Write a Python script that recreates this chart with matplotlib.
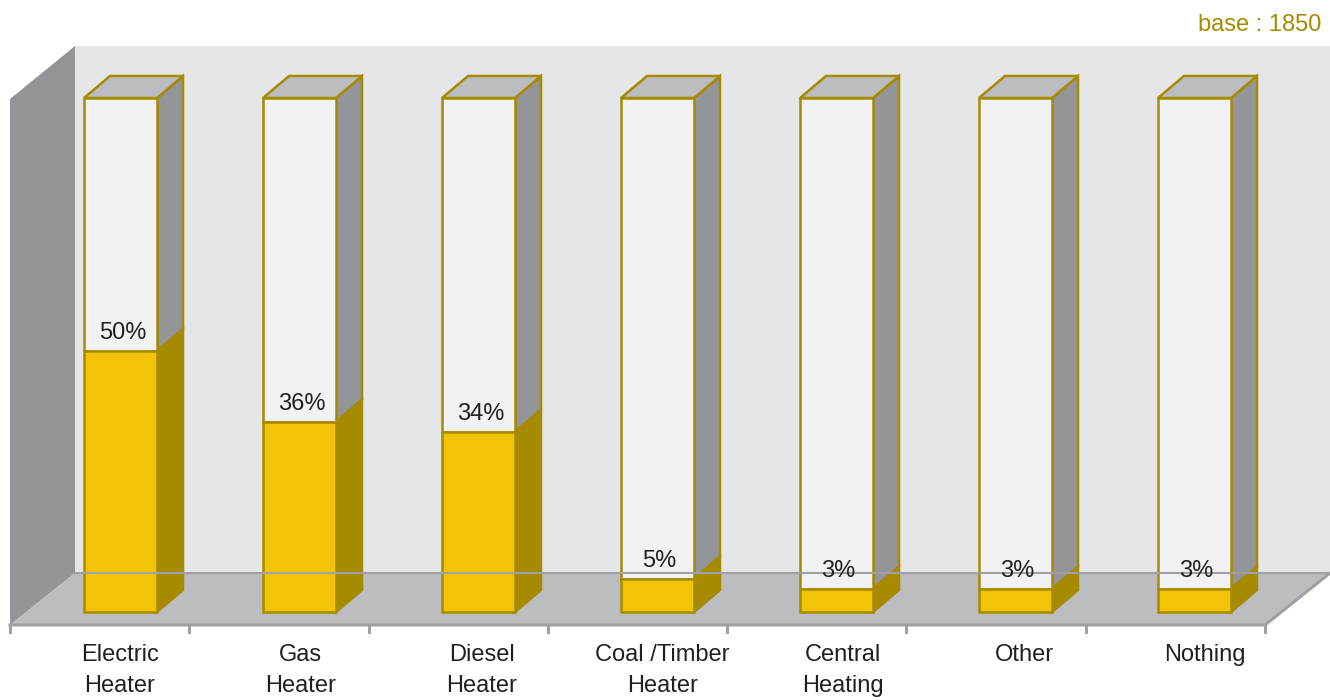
import matplotlib
matplotlib.use("Agg")
import matplotlib.pyplot as plt
from matplotlib.patches import Polygon

# Dane
kategorie = ["Electric\nHeater", "Gas\nHeater", "Diesel\nHeater", "Coal /Timber\nHeater",
             "Central\nHeating", "Other", "Nothing"]
wartosci = [50, 36, 34, 5, 3, 3, 3]
etykiety = ["50%", "36%", "34%", "5%", "3%", "3%", "3%"]
podstawa = "base : 1850"

# Kolory
zolty = "#F2C407"
zolty_bok = "#A68A00"
obrys = "#A68A00"
bialy = "#F1F2F4"
szary_gora = "#BCBDC0"
szary_bok = "#939598"
sciana_tyl = "#E5E6E8"
sciana_lewa = "#939598"
podloga = "#BCBDC1"
linia_podlogi = "#A0A1A4"

plt.rcParams['font.family'] = ['Liberation Sans', 'DejaVu Sans']

figura = plt.figure(figsize=(13.3, 7), dpi=100)
os = figura.add_axes([0, 0, 1, 1])
os.set_xlim(0, 1330)
os.set_ylim(700, 0)
os.axis('off')

# Geometria (piksele)
dx, dy = 26, -22
y_zero, y_sto = 604, 98
y_dol = 612
szer = 73
x0, krok = 84, 179


def y_wart(v):
    return y_zero - v / 100 * (y_zero - y_sto)


# Ściany i podłoga
os.add_patch(Polygon([(75, 46), (1330, 46), (1330, 573), (75, 573)], closed=True,
                     fc=sciana_tyl, ec='none'))
os.add_patch(Polygon([(10, 99), (75, 46), (75, 573), (10, 625)], closed=True,
                     fc=sciana_lewa, ec='none'))
os.add_patch(Polygon([(10, 625), (75, 573), (1330, 573), (1265, 625)], closed=True,
                     fc=podloga, ec='none'))
os.plot([75, 1330], [573, 573], color=linia_podlogi, lw=1.5)
os.plot([10, 1265, 1330], [625, 625, 573], color=linia_podlogi, lw=2.2,
        solid_joinstyle='miter')
for i in range(len(kategorie) + 1):
    xt = 10 + i * (1255 / len(kategorie))
    os.plot([xt, xt], [625, 632], color=linia_podlogi, lw=2.2)

# Słupki
for i, (v, et) in enumerate(zip(wartosci, etykiety)):
    xl = x0 + i * krok
    xr = xl + szer
    yv = y_wart(v)
    kw = dict(closed=True, ec=obrys, lw=1.8, joinstyle='miter')
    # bok
    os.add_patch(Polygon([(xr, y_sto), (xr + dx, y_sto + dy), (xr + dx, yv + dy), (xr, yv)],
                         fc=szary_bok, **kw))
    os.add_patch(Polygon([(xr, yv), (xr + dx, yv + dy), (xr + dx, y_dol + dy), (xr, y_dol)],
                         fc=zolty_bok, **kw))
    # góra
    os.add_patch(Polygon([(xl, y_sto), (xl + dx, y_sto + dy), (xr + dx, y_sto + dy), (xr, y_sto)],
                         fc=szary_gora, **kw))
    # przód
    os.add_patch(Polygon([(xl, y_sto), (xr, y_sto), (xr, yv), (xl, yv)], fc=bialy, **kw))
    os.add_patch(Polygon([(xl, yv), (xr, yv), (xr, y_dol), (xl, y_dol)], fc=zolty, **kw))
    os.text((xl + xr) / 2 + 2, yv - 18, et, ha='center', va='center', fontsize=17,
            color='#231F20')
    # etykiety kategorii, każda linia osobno
    for j, linia in enumerate(kategorie[i].split("\n")):
        os.text(120 + i * 180.8, 655 + j * 31, linia, ha='center', va='center',
                fontsize=17, color='#231F20')

os.text(1321, 25, podstawa, ha='right', va='center', fontsize=17, color=obrys)

figura.savefig("out.png", dpi=100)
